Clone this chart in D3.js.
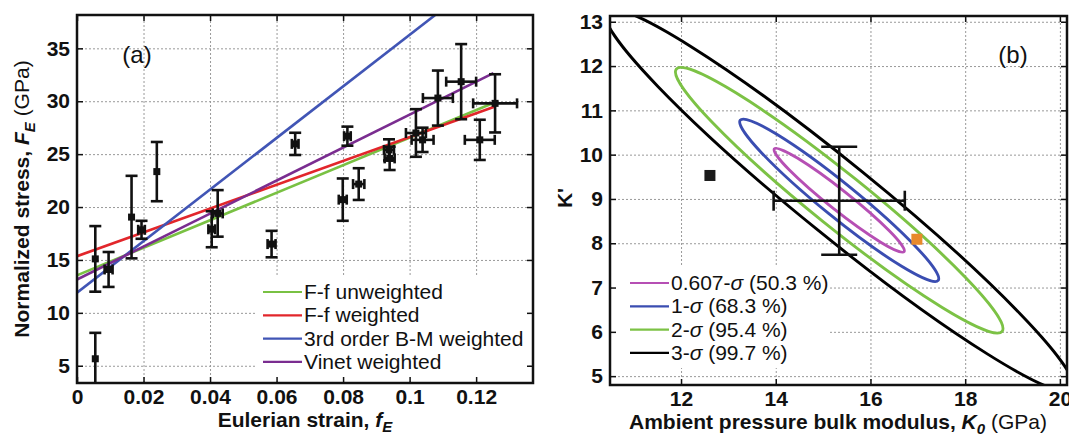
<!DOCTYPE html>
<html>
<head>
<meta charset="utf-8">
<script src="https://cdn.jsdelivr.net/npm/d3@7"></script>
<style>
  body { margin: 0; background: #fff; }
  text { font-family: "Liberation Sans", Arial, sans-serif; fill: #111; }
  .tick text { font-weight: bold; font-size: 21px; }
  .grid line { stroke: #999; stroke-width: 1; stroke-dasharray: 2,2; }
  .grid path, .ax path { display: none; }
  .ax line { stroke: #111; stroke-width: 1.5; }
</style>
</head>
<body>
<svg id="chart" width="1069" height="440"></svg>
<script>
// ---- panel (a): F-f data ----
var strain = [0.0055, 0.0055, 0.0095, 0.0164, 0.0194, 0.0240, 0.0405, 0.0423, 0.0585, 0.0656, 0.0799,
              0.0813, 0.0847, 0.0938, 0.0940, 0.1019, 0.1039, 0.1085, 0.1155, 0.1211, 0.1257];
var stress = [5.66, 15.1, 14.1, 19.05, 17.85, 23.35, 17.9, 19.4, 16.5, 25.97, 20.7,
              26.7, 22.17, 25.4, 24.6, 27.0, 26.35, 30.3, 31.85, 26.35, 29.8];
var stressErr = [2.45, 3.1, 1.65, 3.9, 0.85, 2.8, 1.7, 2.2, 1.25, 1.05, 2.0,
                 0.9, 1.5, 1.0, 1.1, 2.25, 1.15, 2.6, 3.55, 1.9, 2.75];
var strainErr = [0, 0, 0.0012, 0, 0.001, 0, 0.001, 0.0015, 0.0012, 0.001, 0.0012,
                 0.001, 0.0017, 0.0015, 0.0015, 0.003, 0.0033, 0.0045, 0.0045, 0.0045, 0.0066];

var fitNames = ['F-f unweighted', 'F-f weighted', '3rd order B-M weighted', 'Vinet weighted'];
var fitStart = [[0, 13.55], [0, 15.35], [0, 11.9], [0, 13.15]];
var fitEnd = [[0.1257, 29.9], [0.1257, 29.5], [0.1077, 38.15], [0.1252, 32.65]];
var fitColors = ['#79c143', '#e2262b', '#4155b5', '#7a2d90'];

var fTicks = [0, 0.02, 0.04, 0.06, 0.08, 0.1, 0.12];
var fTickLabels = ['0', '0.02', '0.04', '0.06', '0.08', '0.1', '0.12'];
var FTicks = [5, 10, 15, 20, 25, 30, 35];

// ---- panel (b): confidence ellipses ----
var levelNames = ['0.607-σ (50.3 %)', '1-σ (68.3 %)', '2-σ (95.4 %)', '3-σ (99.7 %)'];
var levelColors = ['#b64fb4', '#3a4db1', '#7cc245', '#000'];
var centerK0 = 15.34, centerKp = 8.97;
var tipK0 = [13.97, 13.25, 11.9, 10.42];
var tipKp = [10.13, 10.78, 11.93, 13.24];
var halfChord = [0.29, 0.49, 0.77, 1.06];   // vertical half-width through centre, K' units

var fitK0 = 15.34, fitKp = 8.96, fitK0Err = 1.385, fitKpErr = 1.22;
var otherK0 = [12.61, 16.98], otherKp = [9.53, 8.09], otherColors = ['#1a1a1a', '#e8892c'];

var kTicks = [12, 14, 16, 18, 20];
var kpTicks = [5, 6, 7, 8, 9, 10, 11, 12, 13];

var svg = d3.select('#chart');
svg.append('rect').attr('width', 1069).attr('height', 440).attr('fill', '#fff');

function frame(g, x, y, xt, yt) {
  var x0 = x.range()[0], x1 = x.range()[1], y0 = y.range()[0], y1 = y.range()[1];
  g.append('g').attr('class', 'grid')
      .attr('transform', 'translate(0,' + y0 + ')')
      .call(d3.axisBottom(x).tickValues(xt).tickSize(-(y0 - y1)).tickFormat(''));
  g.append('g').attr('class', 'grid')
      .attr('transform', 'translate(' + x0 + ',0)')
      .call(d3.axisLeft(y).tickValues(yt).tickSize(-(x1 - x0)).tickFormat(''));
}

function border(g, x, y, xt, yt, xfmt) {
  var x0 = x.range()[0], x1 = x.range()[1], y0 = y.range()[0], y1 = y.range()[1];
  g.append('g').attr('class', 'ax')
      .attr('transform', 'translate(0,' + y0 + ')')
      .call(d3.axisBottom(x).tickValues(xt).tickSizeInner(-6).tickSizeOuter(0).tickPadding(6).tickFormat(xfmt));
  g.append('g').attr('class', 'ax')
      .attr('transform', 'translate(0,' + y1 + ')')
      .call(d3.axisTop(x).tickValues(xt).tickSizeInner(-6).tickSizeOuter(0).tickFormat(''));
  g.append('g').attr('class', 'ax')
      .attr('transform', 'translate(' + x0 + ',0)')
      .call(d3.axisLeft(y).tickValues(yt).tickSizeInner(-6).tickSizeOuter(0).tickPadding(7));
  g.append('g').attr('class', 'ax')
      .attr('transform', 'translate(' + x1 + ',0)')
      .call(d3.axisRight(y).tickValues(yt).tickSizeInner(-6).tickSizeOuter(0).tickFormat(''));
  g.append('rect')
      .attr('x', x0).attr('y', y1).attr('width', x1 - x0).attr('height', y0 - y1)
      .attr('fill', 'none').attr('stroke', '#111').attr('stroke-width', 2.5);
}

function legend(g, names, colors, lx, ly, dy, fs) {
  names.forEach(function (n, i) {
    var yy = ly + i * dy;
    g.append('line').attr('x1', lx).attr('x2', lx + 39).attr('y1', yy).attr('y2', yy)
        .attr('stroke', colors[i]).attr('stroke-width', 2.2);
    var t = g.append('text').attr('x', lx + 41).attr('y', yy + 7).attr('font-size', fs);
    var parts = n.split('σ');
    t.append('tspan').text(parts[0]);
    if (parts.length > 1) {
      t.append('tspan').attr('font-style', 'italic').text('σ');
      t.append('tspan').text(parts[1]);
    }
  });
}

// ================= panel (a) =================
var xa = d3.scaleLinear().domain([0, 0.1371]).range([77, 533]);
var ya = d3.scaleLinear().domain([3.37, 38.15]).range([383, 15]);
var ga = svg.append('g');

svg.append('clipPath').attr('id', 'clipA').append('rect')
    .attr('x', 77).attr('y', 15).attr('width', 456).attr('height', 368);

frame(ga, xa, ya, fTicks, FTicks);
ga.append('rect').attr('x', 257).attr('y', 277).attr('width', 271).attr('height', 104).attr('fill', '#fff');

var pa = ga.append('g').attr('clip-path', 'url(#clipA)');
fitNames.forEach(function (n, i) {
  pa.append('line')
      .attr('x1', xa(fitStart[i][0])).attr('y1', ya(fitStart[i][1]))
      .attr('x2', xa(fitEnd[i][0])).attr('y2', ya(fitEnd[i][1]))
      .attr('stroke', fitColors[i]).attr('stroke-width', 2.6);
});

var pts = strain.map(function (f, i) {
  return { f: f, F: stress[i], ef: strainErr[i], eF: stressErr[i] };
});
var eb = pa.append('g').attr('stroke', '#111').attr('stroke-width', 2.6);
pts.forEach(function (d) {
  var cx = xa(d.f), cy = ya(d.F);
  eb.append('line').attr('x1', cx).attr('x2', cx).attr('y1', ya(d.F - d.eF)).attr('y2', ya(d.F + d.eF));
  [d.F - d.eF, d.F + d.eF].forEach(function (v) {
    eb.append('line').attr('x1', cx - 6).attr('x2', cx + 6).attr('y1', ya(v)).attr('y2', ya(v));
  });
  if (d.ef > 0) {
    eb.append('line').attr('x1', xa(d.f - d.ef)).attr('x2', xa(d.f + d.ef)).attr('y1', cy).attr('y2', cy);
    [d.f - d.ef, d.f + d.ef].forEach(function (v) {
      eb.append('line').attr('x1', xa(v)).attr('x2', xa(v)).attr('y1', cy - 5).attr('y2', cy + 5);
    });
  }
});
pa.selectAll('rect.pt').data(pts).enter().append('rect').attr('class', 'pt')
    .attr('x', function (d) { return xa(d.f) - 3.5; })
    .attr('y', function (d) { return ya(d.F) - 3.5; })
    .attr('width', 7).attr('height', 7).attr('fill', '#111');

legend(ga, fitNames, fitColors, 263, 292, 23.3, 21);
border(ga, xa, ya, fTicks, FTicks, function (d, i) { return fTickLabels[i]; });

ga.append('text').attr('x', 137).attr('y', 63).attr('text-anchor', 'middle')
    .attr('font-size', 24).text('(a)');

var xla = ga.append('text').attr('x', 305).attr('y', 427).attr('text-anchor', 'middle')
    .attr('font-size', 21).attr('font-weight', 'bold');
xla.append('tspan').text('Eulerian strain, ');
xla.append('tspan').attr('font-style', 'italic').text('f');
xla.append('tspan').attr('font-style', 'italic').attr('font-size', 15).attr('dy', 5).text('E');

var yla = ga.append('text').attr('transform', 'translate(29,199) rotate(-90)')
    .attr('text-anchor', 'middle').attr('font-size', 21);
yla.append('tspan').attr('font-weight', 'bold').text('Normalized stress, ');
yla.append('tspan').attr('font-weight', 'bold').attr('font-style', 'italic').text('F');
yla.append('tspan').attr('font-weight', 'bold').attr('font-style', 'italic').attr('font-size', 15).attr('dy', 6).text('E');
yla.append('tspan').attr('dy', -6).text(' (GPa)');

// ================= panel (b) =================
var xb = d3.scaleLinear().domain([10.5, 20.15]).range([610, 1067]);
var yb = d3.scaleLinear().domain([4.8, 13.13]).range([385, 16]);
var gb = svg.append('g');

svg.append('clipPath').attr('id', 'clipB').append('rect')
    .attr('x', 610).attr('y', 16).attr('width', 457).attr('height', 369);

frame(gb, xb, yb, kTicks, kpTicks);
gb.append('rect').attr('x', 613).attr('y', 266).attr('width', 215).attr('height', 102).attr('fill', '#fff');

var pb = gb.append('g').attr('clip-path', 'url(#clipB)');
var cx = xb(centerK0), cy = yb(centerKp);
levelNames.forEach(function (n, i) {
  var dx = xb(tipK0[i]) - cx, dy = yb(tipKp[i]) - cy;
  var a = Math.hypot(dx, dy), ang = Math.atan2(dy, dx);
  var h = Math.abs(yb(centerKp + halfChord[i]) - cy);
  var s = Math.sin(ang), c = Math.cos(ang);
  var b = Math.sqrt(c * c / (1 / (h * h) - s * s / (a * a)));
  pb.append('ellipse')
      .attr('transform', 'translate(' + cx + ',' + cy + ') rotate(' + (ang * 180 / Math.PI) + ')')
      .attr('rx', a).attr('ry', b)
      .attr('fill', 'none').attr('stroke', levelColors[i]).attr('stroke-width', 2.9);
});

var eb2 = pb.append('g').attr('stroke', '#111').attr('stroke-width', 2.6);
var fx = xb(fitK0), fy = yb(fitKp);
eb2.append('line').attr('x1', xb(fitK0 - fitK0Err)).attr('x2', xb(fitK0 + fitK0Err)).attr('y1', fy).attr('y2', fy);
eb2.append('line').attr('x1', fx).attr('x2', fx).attr('y1', yb(fitKp - fitKpErr)).attr('y2', yb(fitKp + fitKpErr));
[fitK0 - fitK0Err, fitK0 + fitK0Err].forEach(function (v) {
  eb2.append('line').attr('x1', xb(v)).attr('x2', xb(v)).attr('y1', fy - 10).attr('y2', fy + 10);
});
[fitKp - fitKpErr, fitKp + fitKpErr].forEach(function (v) {
  eb2.append('line').attr('x1', fx - 18).attr('x2', fx + 18).attr('y1', yb(v)).attr('y2', yb(v));
});

pb.selectAll('rect.sq').data(otherK0).enter().append('rect').attr('class', 'sq')
    .attr('x', function (d) { return xb(d) - 5.5; })
    .attr('y', function (d, i) { return yb(otherKp[i]) - 5.5; })
    .attr('width', 11).attr('height', 11)
    .attr('fill', function (d, i) { return otherColors[i]; });

legend(gb, levelNames, levelColors, 630, 283, 23.3, 21);
border(gb, xb, yb, kTicks, kpTicks, d3.format('d'));

gb.append('text').attr('x', 1013).attr('y', 63).attr('text-anchor', 'middle')
    .attr('font-size', 24).text('(b)');

var xlb = gb.append('text').attr('x', 838).attr('y', 429).attr('text-anchor', 'middle')
    .attr('font-size', 21);
xlb.append('tspan').attr('font-weight', 'bold').text('Ambient pressure bulk modulus, ');
xlb.append('tspan').attr('font-weight', 'bold').attr('font-style', 'italic').text('K');
xlb.append('tspan').attr('font-weight', 'bold').attr('font-style', 'italic').attr('font-size', 15).attr('dy', 5).text('0');
xlb.append('tspan').attr('dy', -5).text(' (GPa)');

gb.append('text').attr('transform', 'translate(572,198) rotate(-90)')
    .attr('text-anchor', 'middle').attr('font-size', 21).attr('font-weight', 'bold').text("K'");
</script>
</body>
</html>
